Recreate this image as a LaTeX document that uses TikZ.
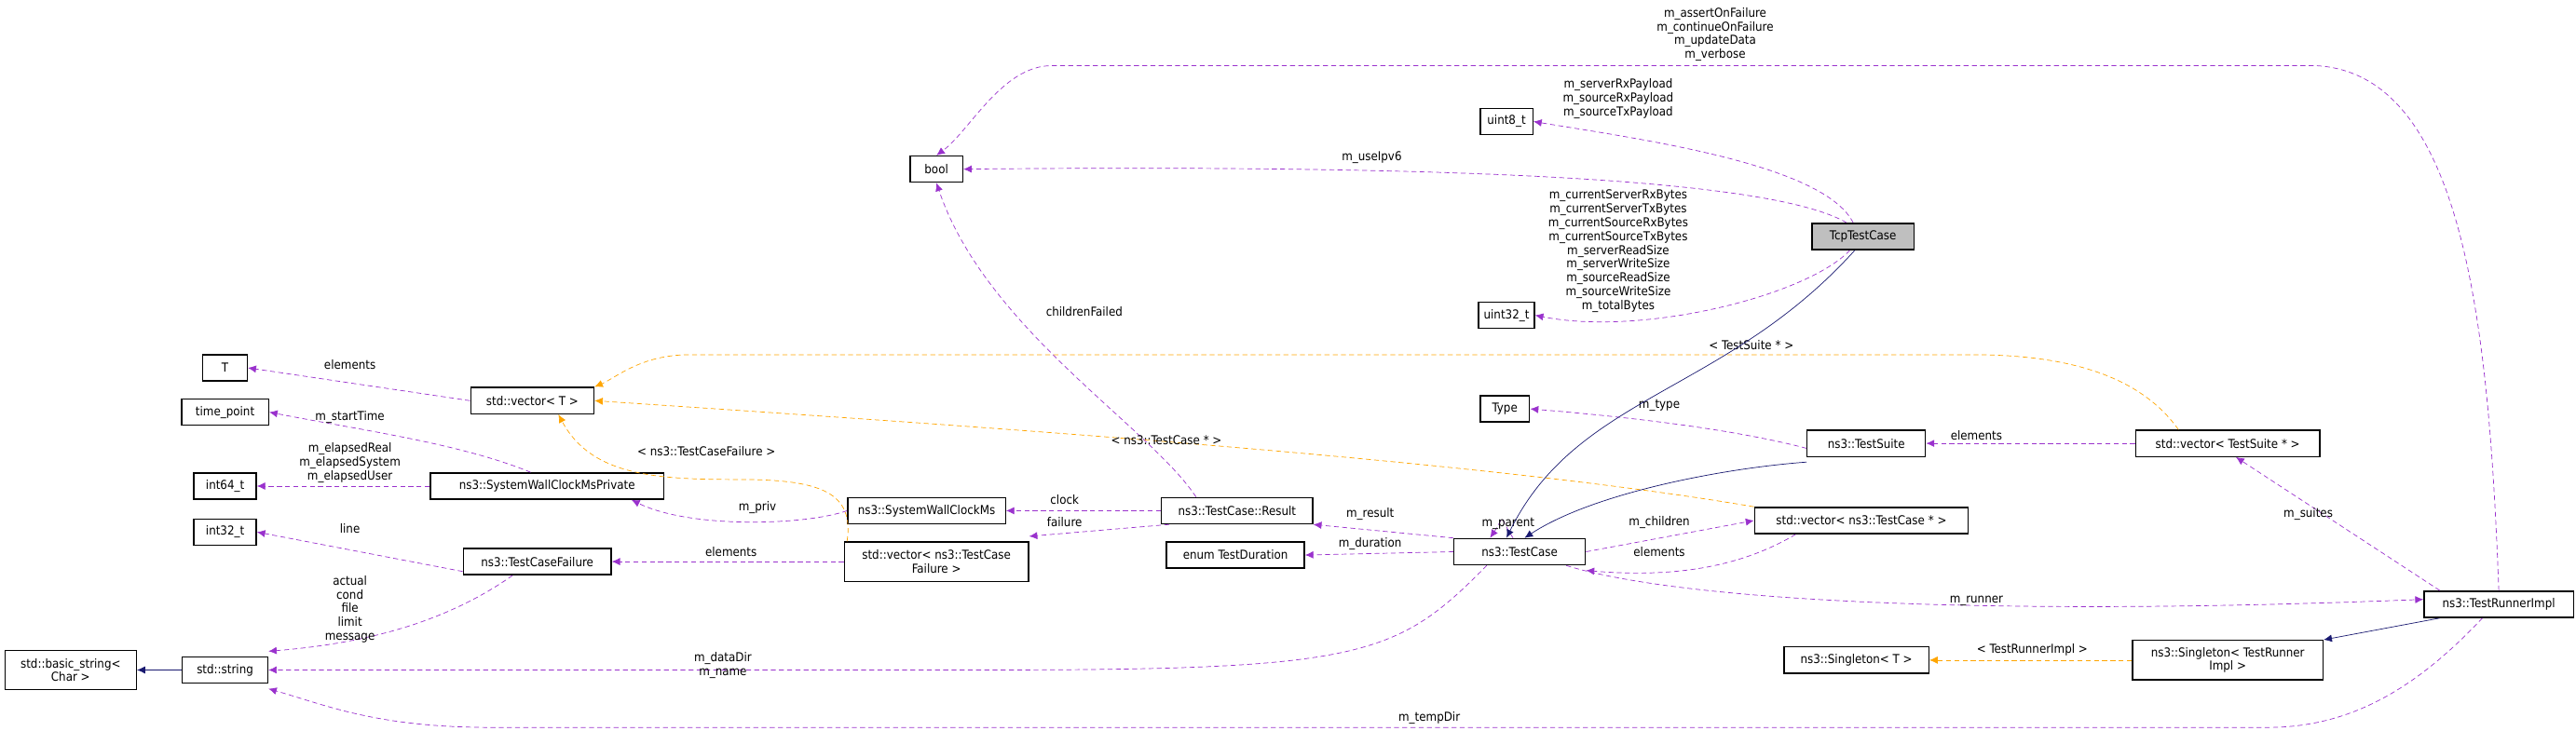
\documentclass[tikz,border=0pt]{standalone}
\usepackage{fontspec}
\setmainfont{DejaVu Sans Condensed}
\usetikzlibrary{arrows.meta}
\definecolor{pur}{HTML}{9A32CD}
\definecolor{org}{HTML}{FFA500}
\definecolor{nav}{HTML}{191970}
\begin{document}
\begin{tikzpicture}[x=1pt,y=-1pt,
 box/.style={draw,thick,minimum height=16pt,inner sep=1.5pt,font=\fontsize{7.5}{8.4}\selectfont,align=center},
 lab/.style={font=\fontsize{7.5}{8.4}\selectfont,align=center,inner sep=0pt,text=black},
 use/.style={pur,densely dashed,-{Latex[length=5pt,width=4.5pt]}},
 tpl/.style={org,densely dashed,-{Latex[length=5pt,width=4.5pt]}},
 inh/.style={nav,-{Latex[length=5pt,width=4.5pt]}}]
\useasboundingbox (0,0) rectangle (1568,445);
\node[box,minimum width=27] (T) at (137,224) {T};
\node[box,minimum width=53] (tp) at (137,251) {time\_point};
\node[box,minimum width=38] (i64) at (137,296) {int64\_t};
\node[box,minimum width=38] (i32) at (137,324) {int32\_t};
\node[box,minimum width=80,minimum height=24] (bs) at (43,408) {std::basic\_string\textless\\Char \textgreater};
\node[box,minimum width=52] (str) at (137,408) {std::string};
\node[box,minimum width=75] (vT) at (324,244) {std::vector\textless{} T \textgreater};
\node[box,minimum width=142] (swp) at (333,296) {ns3::SystemWallClockMsPrivate};
\node[box,minimum width=90] (tcf) at (327,342) {ns3::TestCaseFailure};
\node[box,minimum width=96] (swc) at (564,311) {ns3::SystemWallClockMs};
\node[box,minimum width=112,minimum height=24] (vtcf) at (570,342) {std::vector\textless{} ns3::TestCase\\Failure \textgreater};
\node[box,minimum width=92] (res) at (753,311) {ns3::TestCase::Result};
\node[box,minimum width=84] (dur) at (752,338) {enum TestDuration};
\node[box,minimum width=80] (tc) at (925,336) {ns3::TestCase};
\node[box,minimum width=30] (type) at (916,249) {Type};
\node[box,minimum width=72] (ts) at (1136,270) {ns3::TestSuite};
\node[box,minimum width=130] (vtc) at (1133,317) {std::vector\textless{} ns3::TestCase * \textgreater};
\node[box,minimum width=112] (vts) at (1356,270) {std::vector\textless{} TestSuite * \textgreater};
\node[box,minimum width=91] (tri) at (1521,368) {ns3::TestRunnerImpl};
\node[box,minimum width=116,minimum height=24] (sti) at (1356,402) {ns3::Singleton\textless{} TestRunner\\Impl \textgreater};
\node[box,minimum width=88] (sT) at (1130,402) {ns3::Singleton\textless{} T \textgreater};
\node[box,minimum width=62,fill=black!25] (tcp) at (1134,144) {TcpTestCase};
\node[box,minimum width=32] (u8) at (917,74) {uint8\_t};
\node[box,minimum width=34] (u32) at (917,192) {uint32\_t};
\node[box,minimum width=32] (bool) at (570,103) {bool};

\draw[use] (vT.west) -- (T.east);
\node[lab] at (213,222) {elements};
\draw[use] ([xshift=-10]swp.north) .. controls (280,270) and (220,262) .. (tp.east);
\node[lab] at (213,254) {m\_startTime};
\draw[use] (swp.west) -- (i64.east);
\node[lab] at (213,282) {m\_elapsedReal\\m\_elapsedSystem\\m\_elapsedUser};
\draw[use] ([yshift=-6]tcf.west) -- (i32.east);
\node[lab] at (213,322) {line};
\draw[use] ([xshift=-15]tcf.south) .. controls (270,380) and (220,392) .. ([yshift=3]str.north east);
\node[lab] at (213,371) {actual\\cond\\file\\limit\\message};
\draw[inh] (str.west) -- (bs.east);
\draw[use] ([xshift=-20]tc.south) .. controls (850,400) and (830,408) .. (600,408) -- (str.east);
\node[lab] at (440,405) {m\_dataDir\\m\_name};
\draw[use] ([xshift=-10]tri.south) .. controls (1470,420) and (1430,443) .. (1380,443) -- (300,443) .. controls (230,443) and (200,430) .. ([yshift=-3]str.south east);
\node[lab] at (870,437) {m\_tempDir};
\draw[use] (swc.west) .. controls (490,320) and (420,322) .. ([xshift=-20]swp.south east);
\node[lab] at (461,309) {m\_priv};
\draw[tpl] ([xshift=2]vtcf.north west) .. controls (520,300) and (500,292) .. (450,292) .. controls (400,292) and (360,290) .. ([xshift=-22]vT.south east);
\node[lab] at (430,275) {\textless{} ns3::TestCaseFailure \textgreater};
\draw[use] (vtcf.west) -- (tcf.east);
\node[lab] at (445,336) {elements};
\draw[use] (res.west) -- (swc.east);
\node[lab] at (648,304) {clock};
\draw[use] ([xshift=5]res.south west) -- ([yshift=3]vtcf.north east);
\node[lab] at (648,318) {failure};
\draw[use] ([xshift=-25]res.north) .. controls (700,260) and (600,200) .. (bool.south);
\node[lab] at (660,190) {childrenFailed};
\draw[use] (tc.north west) -- (res.south east);
\node[lab] at (834,313) {m\_result};
\draw[use] (tc.west) -- (dur.east);
\node[lab] at (834,331) {m\_duration};
\draw[use] ([xshift=-4]tc.north) .. controls ++(-10,-15) and ++(10,-15) .. ([xshift=-18]tc.north);
\node[lab] at (918,319) {m\_parent};
\draw[use] (tc.east) -- (vtc.west);
\node[lab] at (1010,318) {m\_children};
\draw[use] ([xshift=-40]vtc.south) .. controls (1060,345) and (1020,352) .. ([yshift=-3]tc.south east);
\node[lab] at (1010,336) {elements};
\draw[tpl] (vtc.north west) .. controls (900,280) and (600,260) .. (vT.east);
\node[lab] at (710,268) {\textless{} ns3::TestCase * \textgreater};
\draw[tpl] ([xshift=-30]vts.north) .. controls (1300,225) and (1250,216) .. (1200,216) -- (420,216) .. controls (390,216) and (375,230) .. (vT.north east);
\node[lab] at (1066,210) {\textless{} TestSuite * \textgreater};
\draw[use] ([yshift=-3]ts.west) .. controls (1050,260) and (980,253) .. (type.east);
\node[lab] at (1010,247) {m\_type};
\draw[inh] ([yshift=-3]ts.south west) .. controls (1050,285) and (970,300) .. ([xshift=3]tc.north);
\draw[inh] ([xshift=-5]tcp.south) .. controls (1050,240) and (960,240) .. ([xshift=-8]tc.north);
\draw[use] (vts.west) -- (ts.east);
\node[lab] at (1203,265) {elements};
\draw[use] ([xshift=10]tri.north west) -- ([xshift=5]vts.south);
\node[lab] at (1405,313) {m\_suites};
\draw[use] ([xshift=-12]tc.south east) .. controls (1020,365) and (1200,376) .. ([yshift=3]tri.west);
\node[lab] at (1203,366) {m\_runner};
\draw[inh] ([xshift=10]tri.south west) -- (sti.north east);
\draw[tpl] (sti.west) -- (sT.east);
\node[lab] at (1237,396) {\textless{} TestRunnerImpl \textgreater};
\draw[use] (tri.north) .. controls (1515,200) and (1500,45) .. (1410,40) -- (640,40) .. controls (610,40) and (590,80) .. (bool.north);
\node[lab] at (1044,21) {m\_assertOnFailure\\m\_continueOnFailure\\m\_updateData\\m\_verbose};
\draw[use] ([xshift=-10]tcp.north) .. controls (1080,110) and (900,100) .. (bool.east);
\node[lab] at (835,96) {m\_useIpv6};
\draw[use] ([xshift=-6]tcp.north) .. controls (1110,100) and (1000,85) .. (u8.east);
\node[lab] at (985,60) {m\_serverRxPayload\\m\_sourceRxPayload\\m\_sourceTxPayload};
\draw[use] ([xshift=-8]tcp.south) .. controls (1100,180) and (1000,205) .. (u32.east);
\node[lab] at (985,153) {m\_currentServerRxBytes\\m\_currentServerTxBytes\\m\_currentSourceRxBytes\\m\_currentSourceTxBytes\\m\_serverReadSize\\m\_serverWriteSize\\m\_sourceReadSize\\m\_sourceWriteSize\\m\_totalBytes};
\end{tikzpicture}
\end{document}
